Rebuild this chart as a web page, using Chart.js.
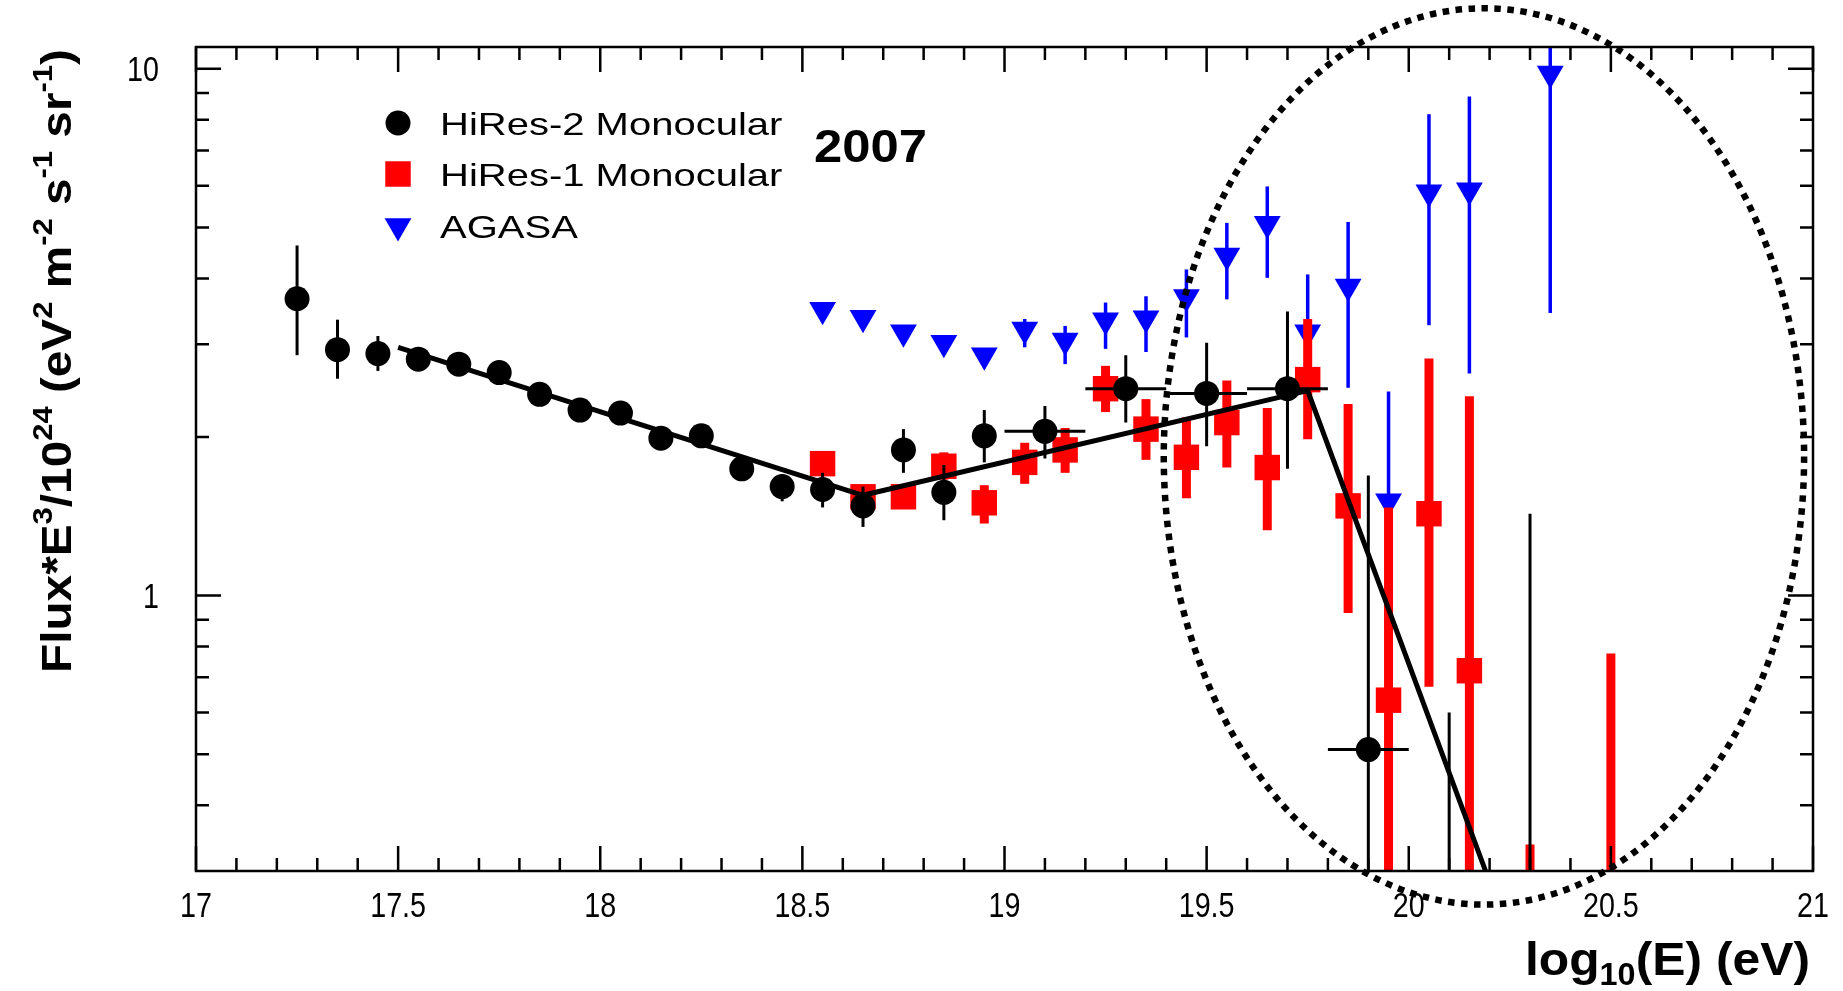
<!DOCTYPE html>
<html>
<head>
<meta charset="utf-8">
<title>UHECR spectrum - HiRes vs AGASA</title>
<script src="https://cdn.jsdelivr.net/npm/chart.js@4.4.1/dist/chart.umd.min.js"></script>
<style>
  html, body { margin: 0; padding: 0; background: #fff; }
  #wrap { width: 1843px; height: 991px; }
</style>
</head>
<body>
<div id="wrap"><canvas id="spectrum" width="1843" height="991"></canvas></div>
<script>
/* ================= DATA ================= */

// HiRes-2 monocular (black circles)
const hires2X    = [17.25, 17.35, 17.45, 17.55, 17.65, 17.75, 17.85, 17.95, 18.05, 18.15, 18.25, 18.35, 18.45,
                    18.55, 18.65, 18.75, 18.85, 18.95, 19.1, 19.3, 19.5, 19.7, 19.9, 20.1, 20.3];
const hires2Y    = [3.66, 2.93, 2.88, 2.81, 2.75, 2.65, 2.41, 2.25, 2.22, 1.99, 2.01, 1.74, 1.61,
                    1.59, 1.48, 1.89, 1.57, 2.01, 2.05, 2.47, 2.42, 2.47, 0.51, 0.15, 0.15];
const hires2Lo   = [2.86, 2.58, 2.67, 2.74, 2.69, 2.59, 2.36, 2.20, 2.17, 1.94, 1.96, 1.70, 1.51,
                    1.47, 1.35, 1.71, 1.39, 1.79, 1.82, 2.13, 1.92, 1.74, 0.2, 0.1, 0.1];
const hires2Hi   = [4.62, 3.34, 3.11, 2.88, 2.82, 2.71, 2.47, 2.31, 2.28, 2.05, 2.07, 1.79, 1.70,
                    1.71, 1.61, 2.07, 1.77, 2.25, 2.29, 2.86, 3.02, 3.46, 1.69, 0.60, 1.43];
const hires2XErr = [0, 0, 0, 0, 0, 0, 0, 0, 0, 0, 0, 0, 0,
                    0, 0, 0, 0, 0, 0.1, 0.1, 0.1, 0.1, 0.1, 0.1, 0.1];

// HiRes-1 monocular (red squares)
const hires1X  = [18.55, 18.65, 18.75, 18.85, 18.95, 19.05, 19.15, 19.25, 19.35, 19.45,
                  19.55, 19.65, 19.75, 19.85, 19.95, 20.05, 20.15, 20.3, 20.5];
const hires1Y  = [1.78, 1.54, 1.54, 1.76, 1.50, 1.79, 1.89, 2.47, 2.07, 1.83,
                  2.13, 1.75, 2.57, 1.48, 0.633, 1.43, 0.72, 0.15, 0.15];
const hires1Lo = [1.74, 1.50, 1.50, 1.66, 1.37, 1.63, 1.71, 2.23, 1.81, 1.53,
                  1.75, 1.33, 1.98, 0.927, 0.2, 0.671, 0.2, 0.1, 0.1];
const hires1Hi = [1.82, 1.58, 1.58, 1.87, 1.62, 1.95, 2.08, 2.73, 2.36, 2.18,
                  2.56, 2.27, 3.35, 2.31, 1.47, 2.82, 2.39, 0.337, 0.776];

// AGASA (blue triangles)
const agasaX  = [18.55, 18.65, 18.75, 18.85, 18.95, 19.05, 19.15, 19.25, 19.35, 19.45,
                 19.55, 19.65, 19.75, 19.85, 19.95, 20.05, 20.15, 20.35];
const agasaY  = [3.49, 3.37, 3.16, 3.02, 2.86, 3.20, 3.05, 3.33, 3.36, 3.69,
                 4.42, 5.08, 3.16, 3.86, 1.51, 5.83, 5.88, 9.80];
const agasaLo = [3.49, 3.37, 3.16, 3.02, 2.86, 2.96, 2.75, 2.94, 2.90, 3.09,
                 3.65, 4.01, 2.60, 2.48, 0.80, 3.26, 2.64, 3.44];
const agasaHi = [3.49, 3.37, 3.16, 3.02, 2.86, 3.35, 3.25, 3.60, 3.70, 4.16,
                 5.10, 5.98, 4.07, 5.12, 2.44, 8.20, 8.86, 12.0];

// broken power-law fit to HiRes
const fitX = [17.5, 18.65, 19.75, 20.19];
const fitY = [2.96, 1.55, 2.45, 0.3];

// axes
const xTickLabels = [17, 17.5, 18, 18.5, 19, 19.5, 20, 20.5, 21];
const xMinorStep  = 0.1;
const yTickLabels = [1, 10];
const yMinorTicks = [0.4, 0.5, 0.6, 0.7, 0.8, 0.9, 2, 3, 4, 5, 6, 7, 8, 9];

// dotted ring around the GZK region, in data units
const ringX = [19.394, 20.978];
const ringY = [0.259, 13.03];

const pts = (xs, ys) => xs.map((x, i) => ({ x, y: ys[i] }));

const FONT = '"Liberation Sans", Arial, Helvetica, sans-serif';

/* ================= HELPERS ================= */

// text with super/subscripts, optional horizontal stretch
function drawRich(ctx, parts, x, y, o) {
  const fontFor = p => `${o.weight || 'normal'} ${p.pos ? o.size * 0.65 : o.size}px ${FONT}`;
  let w = 0;
  parts.forEach(p => { ctx.font = fontFor(p); w += ctx.measureText(p.t).width; });

  ctx.save();
  ctx.translate(x, y);
  if (o.rotate) ctx.rotate(o.rotate);
  ctx.scale(o.stretch || 1, 1);
  ctx.fillStyle = '#000';
  ctx.textAlign = 'left';
  ctx.textBaseline = 'alphabetic';
  let cx = o.align === 'center' ? -w / 2 : o.align === 'right' ? -w : 0;
  parts.forEach(p => {
    ctx.font = fontFor(p);
    const dy = p.pos === 'sup' ? -o.size * 0.45 : p.pos === 'sub' ? o.size * 0.22 : 0;
    ctx.fillText(p.t, cx, dy);
    cx += ctx.measureText(p.t).width;
  });
  ctx.restore();
}

/* ================= PLUGINS ================= */

// vertical / horizontal error bars, drawn just under each dataset's markers
const errorBars = {
  id: 'errorBars',
  beforeDatasetDraw(chart, args) {
    const ds = chart.data.datasets[args.index];
    if (!ds.errLo) return;
    const { ctx, chartArea: a, scales: { x, y } } = chart;
    ctx.save();
    ctx.beginPath();
    ctx.rect(a.left, a.top, a.right - a.left, a.bottom - a.top);
    ctx.clip();
    ctx.strokeStyle = ds.backgroundColor;
    ctx.lineWidth = ds.errWidth;
    ctx.lineCap = 'butt';
    ds.data.forEach((p, i) => {
      const px = x.getPixelForValue(p.x);
      ctx.beginPath();
      ctx.moveTo(px, y.getPixelForValue(ds.errLo[i]));
      ctx.lineTo(px, y.getPixelForValue(ds.errHi[i]));
      const xe = ds.errX ? ds.errX[i] : 0;
      if (xe) {
        const py = y.getPixelForValue(p.y);
        ctx.moveTo(x.getPixelForValue(p.x - xe), py);
        ctx.lineTo(x.getPixelForValue(p.x + xe), py);
      }
      ctx.stroke();
    });
    ctx.restore();
  }
};

// ROOT-style frame with inward ticks on all four sides, plus tick labels
const frame = {
  id: 'frame',
  afterDatasetsDraw(chart) {
    const { ctx, chartArea: a, scales: { x, y } } = chart;
    ctx.save();
    ctx.strokeStyle = '#000';
    ctx.lineWidth = 2.5;
    ctx.strokeRect(a.left, a.top, a.right - a.left, a.bottom - a.top);

    ctx.beginPath();
    const xMin = xTickLabels[0], xMax = xTickLabels[xTickLabels.length - 1];
    const nMinor = Math.round((xMax - xMin) / xMinorStep);
    for (let i = 0; i <= nMinor; i++) {
      const v = xMin + i * xMinorStep;
      const px = x.getPixelForValue(v);
      const len = xTickLabels.some(t => Math.abs(t - v) < 1e-6) ? 25 : 13;
      ctx.moveTo(px, a.bottom); ctx.lineTo(px, a.bottom - len);
      ctx.moveTo(px, a.top);    ctx.lineTo(px, a.top + len);
    }
    yTickLabels.forEach(v => {
      const py = y.getPixelForValue(v);
      ctx.moveTo(a.left, py);  ctx.lineTo(a.left + 25, py);
      ctx.moveTo(a.right, py); ctx.lineTo(a.right - 25, py);
    });
    yMinorTicks.forEach(v => {
      const py = y.getPixelForValue(v);
      ctx.moveTo(a.left, py);  ctx.lineTo(a.left + 13, py);
      ctx.moveTo(a.right, py); ctx.lineTo(a.right - 13, py);
    });
    ctx.stroke();
    ctx.restore();

    // narrow, tall tick labels
    xTickLabels.forEach(v => {
      drawRich(ctx, [{ t: String(v) }], x.getPixelForValue(v), a.bottom + 46,
        { size: 35, stretch: 0.82, align: 'center' });
    });
    yTickLabels.forEach(v => {
      drawRich(ctx, [{ t: String(v) }], a.left - 37, y.getPixelForValue(v) + 12.5,
        { size: 35, stretch: 0.82, align: 'right' });
    });
  }
};

// axis titles, legend box, year tag and the dotted ring
const decorations = {
  id: 'decorations',
  afterDraw(chart) {
    const { ctx, scales: { x, y } } = chart;

    // y title
    drawRich(ctx, [
      { t: 'Flux*E' }, { t: '3', pos: 'sup' }, { t: '/10' }, { t: '24', pos: 'sup' },
      { t: ' (eV' }, { t: '2', pos: 'sup' }, { t: ' m' }, { t: '-2', pos: 'sup' },
      { t: ' s' }, { t: '-1', pos: 'sup' }, { t: ' sr' }, { t: '-1', pos: 'sup' }, { t: ')' }
    ], 71, 361, { size: 43, weight: 'bold', stretch: 1.11, align: 'center', rotate: -Math.PI / 2 });

    // x title
    drawRich(ctx, [{ t: 'log' }, { t: '10', pos: 'sub' }, { t: '(E) (eV)' }],
      1810, 975, { size: 47, weight: 'bold', stretch: 1.06, align: 'right' });

    // legend
    const rows = [123, 174, 226];
    chart.data.datasets.filter(ds => ds.inLegend).forEach((ds, i) => {
      ctx.save();
      ctx.fillStyle = ds.backgroundColor;
      Chart.helpers.drawPoint(ctx, {
        pointStyle: ds.pointStyle, radius: ds.pointRadius,
        rotation: ds.pointRotation || 0, borderWidth: 0
      }, 398, rows[i]);
      ctx.restore();
      drawRich(ctx, [{ t: ds.label }], 440, rows[i] + 11.5, { size: 32, stretch: 1.25 });
    });

    drawRich(ctx, [{ t: '2007' }], 814, 162, { size: 47, weight: 'bold', stretch: 1.08 });

    // dotted ring
    const x0 = x.getPixelForValue(ringX[0]), x1 = x.getPixelForValue(ringX[1]);
    const y0 = y.getPixelForValue(ringY[1]), y1 = y.getPixelForValue(ringY[0]);
    ctx.save();
    ctx.strokeStyle = '#000';
    ctx.lineWidth = 6.5;
    ctx.setLineDash([6.5, 6.5]);
    ctx.beginPath();
    ctx.ellipse((x0 + x1) / 2, (y0 + y1) / 2, (x1 - x0) / 2, (y1 - y0) / 2, 0, 0, Math.PI * 2);
    ctx.stroke();
    ctx.restore();
  }
};

/* ================= CHART ================= */

const ctx = document.getElementById('spectrum');

new Chart(ctx, {
  type: 'scatter',
  data: {
    datasets: [
      {
        label: 'fit',
        data: pts(fitX, fitY),
        showLine: true,
        borderColor: '#000',
        borderWidth: 5,
        borderJoinStyle: 'round',
        pointRadius: 0,
        order: 0
      },
      {
        label: 'HiRes-2 Monocular',
        data: pts(hires2X, hires2Y),
        errLo: hires2Lo, errHi: hires2Hi, errX: hires2XErr, errWidth: 3,
        pointStyle: 'circle',
        pointRadius: 12.5,
        backgroundColor: '#000000',
        borderWidth: 0,
        inLegend: true,
        order: 1
      },
      {
        label: 'HiRes-1 Monocular',
        data: pts(hires1X, hires1Y),
        errLo: hires1Lo, errHi: hires1Hi, errWidth: 9,
        pointStyle: 'rect',
        pointRadius: 18,
        backgroundColor: '#ff0000',
        borderWidth: 0,
        inLegend: true,
        order: 2
      },
      {
        label: 'AGASA',
        data: pts(agasaX, agasaY),
        errLo: agasaLo, errHi: agasaHi, errWidth: 3.5,
        pointStyle: 'triangle',
        pointRotation: 180,
        pointRadius: 15.5,
        backgroundColor: '#0000ff',
        borderWidth: 0,
        inLegend: true,
        order: 3
      }
    ]
  },
  options: {
    responsive: false,
    animation: false,
    devicePixelRatio: 1,
    events: [],
    layout: { padding: { top: 47, right: 30, bottom: 0, left: 0 } },
    plugins: {
      legend: { display: false },
      tooltip: { enabled: false }
    },
    scales: {
      x: {
        type: 'linear',
        min: xTickLabels[0],
        max: xTickLabels[xTickLabels.length - 1],
        afterBuildTicks: scale => { scale.ticks = xTickLabels.map(v => ({ value: v })); },
        afterFit: scale => { scale.height = 120; },
        ticks: { display: false },
        grid: { display: false, drawTicks: false },
        border: { display: false }
      },
      y: {
        type: 'logarithmic',
        min: 0.3,
        max: 11,
        afterBuildTicks: scale => { scale.ticks = yTickLabels.map(v => ({ value: v })); },
        afterFit: scale => { scale.width = 196; },
        ticks: { display: false },
        grid: { display: false, drawTicks: false },
        border: { display: false }
      }
    }
  },
  plugins: [errorBars, frame, decorations]
});
</script>
</body>
</html>
